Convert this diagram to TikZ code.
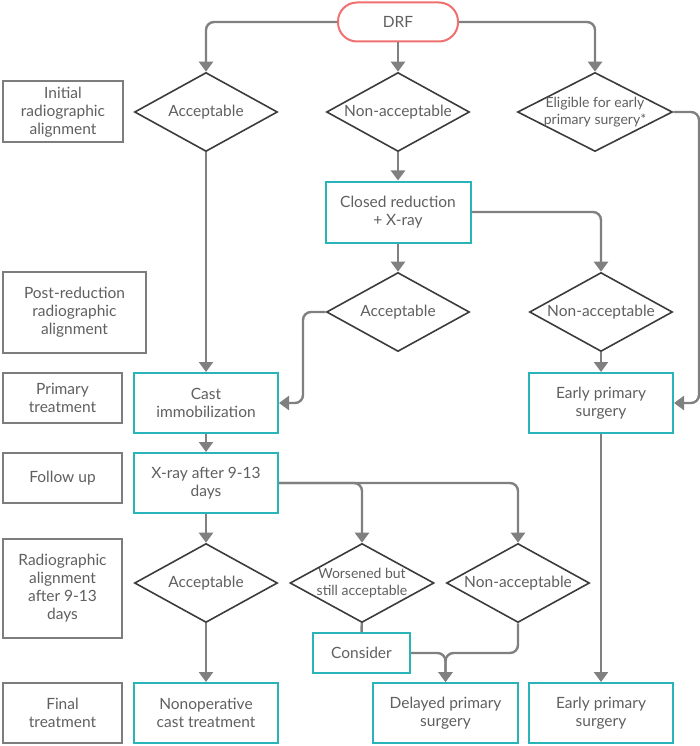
\documentclass[tikz,border=0pt]{standalone}
\usepackage{fontspec}
\setmainfont{Lato}
\definecolor{drfred}{RGB}{240,112,112}
\definecolor{boxteal}{RGB}{40,180,184}
\definecolor{lblgrey}{RGB}{125,125,125}
\definecolor{diagrey}{RGB}{60,60,60}
\definecolor{linegrey}{RGB}{128,128,128}
\definecolor{txtgrey}{RGB}{95,95,95}
\usetikzlibrary{arrows.meta,positioning,shapes.geometric}

\begin{document}
\begin{tikzpicture}[x=1pt,y=-1pt,
  every node/.style={text=txtgrey,align=center,font=\fontsize{15.5}{18}\selectfont},
  lbl/.style={draw=lblgrey,line width=2pt,minimum width=119pt},
  proc/.style={draw=boxteal,line width=2pt,minimum width=144pt,minimum height=60pt},
  dec/.style={diamond,draw=diagrey,line width=1.6pt,aspect=1.8,inner sep=0pt,minimum width=143pt,minimum height=79pt},
  smalltxt/.style={font=\fontsize{14}{17}\selectfont,inner sep=-4pt},
  flow/.style={draw=linegrey,line width=2.4pt,rounded corners=8pt,-{Triangle[width=14pt,length=10pt]}},
  link/.style={draw=linegrey,line width=2.4pt,rounded corners=8pt}]
  \useasboundingbox (0,0) rectangle (700,746);

  % row labels
  \node[lbl,minimum width=120pt,minimum height=61pt] (l1) at (63,112) {Initial\\radiographic\\alignment};
  \node[lbl,minimum width=143pt,minimum height=81pt] (l2) at (74.5,312.5) {Post-reduction\\radiographic\\alignment};
  \node[lbl,minimum height=50pt] (l3) at (62.5,398) {Primary\\treatment};
  \node[lbl,minimum height=50pt] (l4) at (62.5,478) {Follow up};
  \node[lbl,minimum height=99pt] (l5) at (62.5,588) {Radiographic\\alignment\\after 9-13\\days};
  \node[lbl,minimum height=60pt] (l6) at (62.5,713) {Final\\treatment};

  % flow
  \node[draw=drfred,line width=2pt,rounded corners=19pt,minimum width=120pt,minimum height=39pt] (drf) at (398,22) {DRF};
  \node[dec] (acc1) at (206,112) {Acceptable};
  \node[dec] (nacc1) at (398,112) {Non-acceptable};
  \node[dec,smalltxt,aspect=2,minimum width=155pt] (elig) at (595,112) {Eligible for early\\primary surgery*};
  \node[proc,minimum width=145pt,minimum height=61pt] (closed) at (398,212) {Closed reduction\\+ X-ray};
  \node[dec] (acc2) at (398,312) {Acceptable};
  \node[dec] (nacc2) at (601,312) {Non-acceptable};
  \node[proc] (cast) at (206,403) {Cast\\immobilization};
  \node[proc] (eps1) at (601,403) {Early primary\\surgery};
  \node[proc] (xray) at (206,483) {X-ray after 9-13\\days};
  \node[dec] (acc3) at (206,583) {Acceptable};
  \node[dec,smalltxt,minimum width=144pt] (wors) at (362,583) {Worsened but\\still acceptable};
  \node[dec] (nacc3) at (518,583) {Non-acceptable};
  \node[proc,minimum width=97pt,minimum height=40pt] (consider) at (361.5,653) {Consider};
  \node[proc] (nonop) at (206,713) {Nonoperative\\cast treatment};
  \node[proc,minimum width=145pt] (delayed) at (445.5,713) {Delayed primary\\surgery};
  \node[proc] (eps2) at (601,713) {Early primary\\surgery};

  \draw[flow] (drf.west) -| (acc1);
  \draw[flow] (drf) -- (nacc1);
  \draw[flow] (drf.east) -| (elig);
  \draw[flow] (acc1) -- (cast);
  \draw[flow] (nacc1) -- (closed);
  \draw[flow] (closed) -- (acc2);
  \draw[flow] (closed.east) -| (nacc2);
  \draw[flow] (acc2.west) -| ([xshift=24pt]cast.east) -- (cast.east);
  \draw[flow] (nacc2) -- (eps1);
  \draw[flow] (elig.east) -| ([xshift=25pt]eps1.east) -- (eps1.east);
  \draw[flow] (cast) -- (xray);
  \draw[flow] (xray.east) -| (wors);
  \draw[flow] (xray.east) -| (nacc3);
  \draw[flow] (xray) -- (acc3);
  \draw[flow] (acc3) -- (nonop);
  \draw[link] (wors) -- (consider);
  \draw[flow] (consider.east) -| (delayed);
  \draw[flow] (nacc3.south) |- (consider.east -| delayed.north) -- (delayed.north);
  \draw[flow] (eps1) -- (eps2);
\end{tikzpicture}
\end{document}
